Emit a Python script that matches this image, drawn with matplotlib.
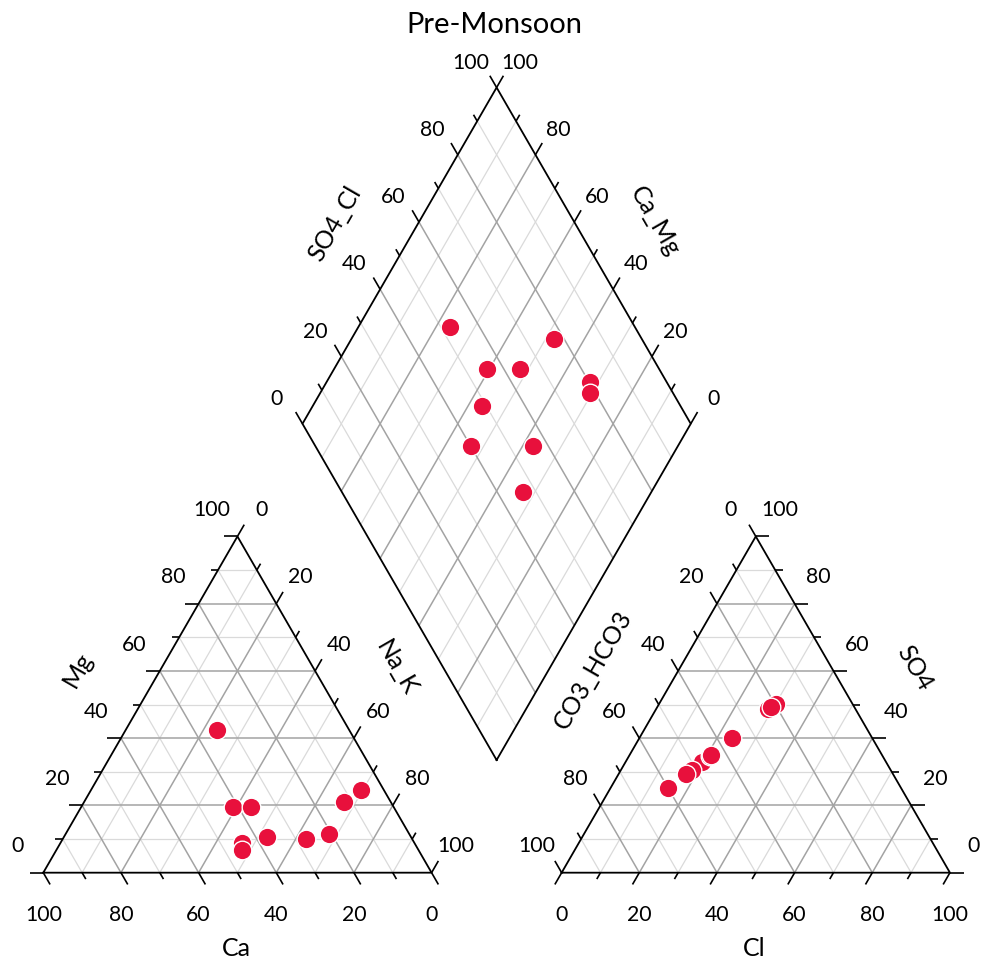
import numpy as np
import matplotlib
matplotlib.use("Agg")
import matplotlib.pyplot as plt

plt.rcParams['font.family'] = ['Lato', 'DejaVu Sans']

# sample composition (%)
ca = [34.0, 41.4, 36.9, 44.5, 45.6, 37.2, 27.3, 20.7, 12.0, 6.0]
mg = [42.4, 19.4, 19.4, 8.9, 6.7, 10.5, 10.1, 11.4, 21.0, 24.5]
so4 = [32.8, 34.8, 30.4, 25.2, 40.2, 48.6, 35.0, 50.2, 29.2, 49.4]
cl = [19.65, 20.8, 18.45, 14.8, 23.9, 28.8, 21.05, 30.1, 17.5, 29.3]

title = "Pre-Monsoon"
ticks = [0, 20, 40, 60, 80, 100]

h = np.sqrt(3) / 2
gap = 33.5
x_right = 100 + gap
bx, by = 100 + gap / 2, gap * h   # diamond bottom corner

major_c, minor_c = '#a3a3a3', '#dadada'
tk_major, tk_minor = 3.5, 1.9
fs_tick, fs_lab = 15.3, 18

fig = plt.figure(figsize=(9.81, 9.58), dpi=100)
ax = fig.add_axes([0, 0, 1, 1])
ax.set_xlim(-11.15, 241.5)
ax.set_ylim(-21.97, 224.75)
ax.set_aspect('equal')
ax.axis('off')


def line(p, q, **kw):
    ax.plot([p[0], q[0]], [p[1], q[1]], solid_capstyle='butt', **kw)


def grid_style(v):
    if v % 20 == 0:
        return dict(color=major_c, lw=1.1, zorder=1)
    return dict(color=minor_c, lw=0.9, zorder=0.5)


def tick(p, d, v):
    ln = tk_major if v % 20 == 0 else tk_minor
    line(p, (p[0] + d[0] * ln, p[1] + d[1] * ln), color='black', lw=1.2, zorder=3)


def triangle(x0, left_side):
    # corners
    a, b, c = (x0, 0), (x0 + 100, 0), (x0 + 50, 100 * h)
    ax.plot([a[0], b[0], c[0], a[0]], [a[1], b[1], c[1], a[1]],
            color='black', lw=1.3, zorder=3)
    for v in range(10, 100, 10):
        st = grid_style(v)
        line((x0 + v / 2, v * h), (x0 + 100 - v / 2, v * h), **st)
        line((x0 + v, 0), (x0 + v + (100 - v) / 2, (100 - v) * h), **st)
        line((x0 + 100 - v, 0), (x0 + (100 - v) / 2, (100 - v) * h), **st)
    for v in range(0, 101, 10):
        if left_side:
            # Ca on bottom (100 at left), Mg on left, Na_K on right
            tick((x0 + 100 - v, 0), (0.5, -h), v)
            tick((x0 + v / 2, v * h), (-1, 0), v)
            tick((x0 + (100 + v) / 2, (100 - v) * h), (0.5, h), v)
        else:
            # Cl on bottom, SO4 on right, CO3_HCO3 on left
            tick((x0 + v, 0), (-0.5, -h), v)
            tick((x0 + 100 - v / 2, v * h), (1, 0), v)
            tick((x0 + (100 - v) / 2, (100 - v) * h), (-0.5, h), v)
    for v in ticks:
        if left_side:
            ax.text(x0 + 100 - v, -10.9, str(v), ha='center', va='center', fontsize=fs_tick)
            ax.text(x0 + v / 2 - 6.5, v * h + 6.8, str(v), ha='center', va='center', fontsize=fs_tick)
            ax.text(x0 + (100 + v) / 2 + 6.2, (100 - v) * h + 6.8, str(v),
                    ha='center', va='center', fontsize=fs_tick)
        else:
            ax.text(x0 + v, -10.9, str(v), ha='center', va='center', fontsize=fs_tick)
            ax.text(x0 + 100 - v / 2 + 6.2, v * h + 6.8, str(v), ha='center', va='center', fontsize=fs_tick)
            ax.text(x0 + (100 - v) / 2 - 6.5, (100 - v) * h + 6.8, str(v),
                    ha='center', va='center', fontsize=fs_tick)


def dpt(a, c):
    return (bx - 0.5 * a + 0.5 * c, by + h * (a + c))


triangle(0, True)
triangle(x_right, False)

# diamond
corners = [dpt(0, 0), dpt(100, 0), dpt(100, 100), dpt(0, 100), dpt(0, 0)]
ax.plot([p[0] for p in corners], [p[1] for p in corners], color='black', lw=1.3, zorder=3)
for v in range(10, 100, 10):
    st = grid_style(v)
    line(dpt(v, 0), dpt(v, 100), **st)
    line(dpt(0, v), dpt(100, v), **st)
for v in range(0, 101, 10):
    tick(dpt(100, v), (-0.5, h), v)
    tick(dpt(v, 100), (0.5, h), v)
for v in ticks:
    p = dpt(100, v)
    ax.text(p[0] - 6.6, p[1] + 6.4, str(v), ha='center', va='center', fontsize=fs_tick)
    p = dpt(v, 100)
    ax.text(p[0] + 6.0, p[1] + 6.4, str(v), ha='center', va='center', fontsize=fs_tick)

# axis names
ax.text(9.0, 52.2, 'Mg', rotation=60, ha='center', va='center', fontsize=fs_lab)
ax.text(91.0, 52.6, 'Na_K', rotation=-60, ha='center', va='center', fontsize=fs_lab)
ax.text(49.6, -19.5, 'Ca', ha='center', va='center', fontsize=fs_lab)
ax.text(141.6, 52.2, 'CO3_HCO3', rotation=60, ha='center', va='center', fontsize=fs_lab)
ax.text(224.5, 52.6, 'SO4', rotation=-60, ha='center', va='center', fontsize=fs_lab)
ax.text(183.0, -19.5, 'Cl', ha='center', va='center', fontsize=fs_lab)
ax.text(75.1, 167.2, 'SO4_Cl', rotation=60, ha='center', va='center', fontsize=fs_lab)
ax.text(157.5, 167.7, 'Ca_Mg', rotation=-60, ha='center', va='center', fontsize=fs_lab)
ax.text(116.3, 218.3, title, ha='center', va='center', fontsize=21)

# data points
ca_a, mg_a = np.array(ca), np.array(mg)
so4_a, cl_a = np.array(so4), np.array(cl)
nak_a = 100 - ca_a - mg_a

kw = dict(s=180, c='#e8103c', edgecolors='white', linewidths=1.0, zorder=5)
ax.scatter(nak_a + mg_a / 2, mg_a * h, **kw)
ax.scatter(x_right + cl_a + so4_a / 2, so4_a * h, **kw)
dx, dy = dpt(ca_a + mg_a, so4_a + cl_a)
ax.scatter(dx, dy, **kw)

fig.savefig('out.png', dpi=100)
